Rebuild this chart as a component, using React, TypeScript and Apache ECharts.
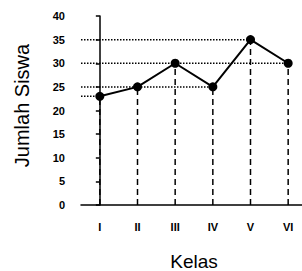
import React, { useEffect, useRef } from "react";
import * as echarts from "echarts";

const categories = ["I", "II", "III", "IV", "V", "VI"];
const students = [23, 25, 30, 25, 35, 30];
const yTicks = [0, 5, 10, 15, 20, 25, 30, 35, 40];

const FONT = "'Liberation Sans', Arial, sans-serif";

export default function App() {
  const ref = useRef<HTMLDivElement>(null);
  useEffect(() => {
    if (!ref.current) return;
    const chart = echarts.init(ref.current, undefined, { renderer: "svg" });
    const pts = students.map((v, i) => [i, v]);
    const drops = students.map((v, i) => ({
      type: "line",
      xAxisIndex: 1,
      data: [[i, 0], [i, v]],
      symbol: "none",
      silent: true,
      z: 1,
      lineStyle: { color: "#000", width: 1.5, type: [6, 4] },
    }));
    const levels = students
      .map((v, i) => ({ v, i }))
      .filter(({ v, i }) => !students.slice(i + 1).includes(v))
      .map(({ v, i }) => ({
        type: "line",
        xAxisIndex: 1,
        data: [[-0.5, v], [i, v]],
        symbol: "none",
        silent: true,
        z: 1,
        lineStyle: { color: "#000", width: 1.5, type: [1.5, 1.5] },
      }));
    chart.setOption({
      animation: false,
      grid: {
        left: 81,
        top: 16,
        bottom: 66,
        right: -5,
        containLabel: false,
        outerBoundsMode: "none",
      },
      xAxis: [
        {
          type: "category",
          data: categories,
          boundaryGap: true,
          name: "Kelas",
          nameLocation: "middle",
          nameGap: 47,
          nameTextStyle: { fontFamily: FONT, fontSize: 19, color: "#000" },
          axisLine: { lineStyle: { color: "#000", width: 1.5 } },
          axisTick: { length: 5, lineStyle: { color: "#000", width: 1.5 } },
          axisLabel: {
            fontFamily: FONT,
            fontSize: 11,
            fontWeight: "bold",
            color: "#000",
            margin: 16,
          },
          splitLine: { show: false },
        },
        { type: "value", show: false, min: -0.5, max: 5.5 },
      ],
      yAxis: {
        type: "value",
        min: yTicks[0],
        max: yTicks[yTicks.length - 1],
        interval: 5,
        name: "Jumlah Siswa",
        nameLocation: "middle",
        nameGap: 49,
        nameRotate: 90,
        nameTextStyle: {
          fontFamily: FONT,
          fontSize: 20,
          color: "#000",
          padding: [0, 0, 0, 10],
        },
        axisLine: { show: true, lineStyle: { color: "#000", width: 1.5 } },
        axisTick: { show: true, length: 4, lineStyle: { color: "#000", width: 1.5 } },
        axisLabel: {
          fontFamily: FONT,
          fontSize: 11,
          fontWeight: "bold",
          color: "#000",
          margin: 16,
        },
        splitLine: { show: false },
      },
      series: [
        ...drops,
        ...levels,
        {
          type: "line",
          xAxisIndex: 1,
          data: pts,
          symbol: "circle",
          symbolSize: 9,
          z: 3,
          itemStyle: { color: "#000" },
          lineStyle: { color: "#000", width: 2 },
        },
      ],
    });
    return () => chart.dispose();
  }, []);
  return <div ref={ref} style={{ width: 302, height: 271, position: "absolute", left: 0, top: 0 }} />;
}
